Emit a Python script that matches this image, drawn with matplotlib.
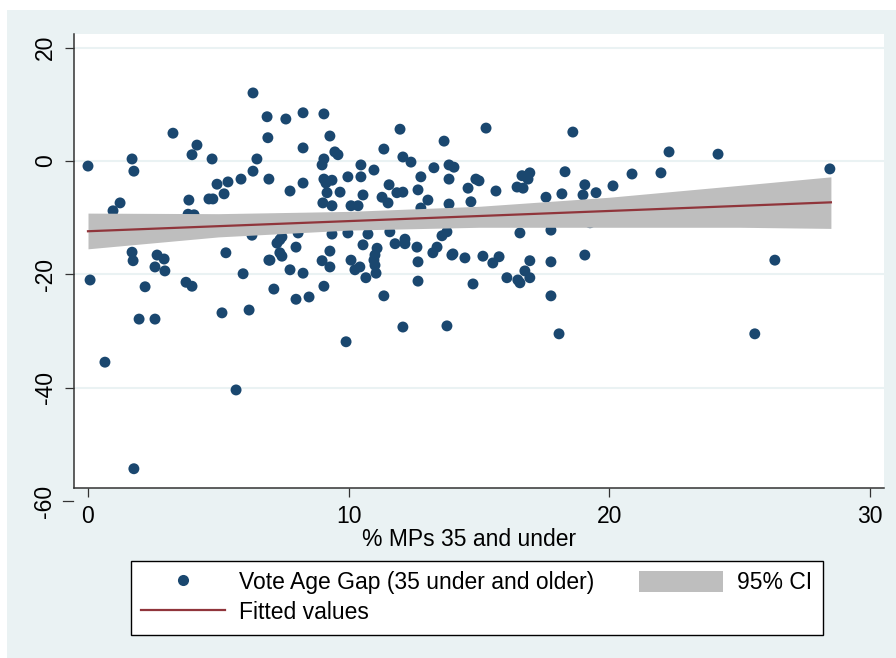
import matplotlib
matplotlib.use('Agg')
import matplotlib.pyplot as plt
from matplotlib.patches import Rectangle, Patch
from matplotlib.lines import Line2D

plt.rcParams['font.family'] = ['Liberation Sans', 'DejaVu Sans']
plt.rcParams['axes.unicode_minus'] = False

# scatter: % MPs 35 and under vs vote age gap
mps_under35 = [
    0.00, 0.08, 0.65, 0.96, 1.23, 1.69, 1.76, 3.26, 3.99, 4.18, 4.76, 3.87, 4.07, 3.84,
    4.64, 4.79, 4.95, 5.22, 5.37, 5.87, 6.33, 6.33, 6.48, 6.87, 6.90, 6.94, 6.29,
    1.69, 1.73, 2.65, 2.92, 2.57, 2.95, 2.19, 3.76, 3.99, 5.29, 5.95, 6.94, 1.96, 2.57,
    5.14, 6.18, 5.68, 1.76,
    7.59, 8.25, 9.05, 9.28, 8.25, 9.47, 9.59, 9.05, 8.98, 8.25, 7.75, 9.05, 9.36, 9.97,
    10.47, 10.47, 10.97, 11.35, 11.97, 12.08, 12.39, 13.27, 13.66, 13.85, 14.04, 13.85,
    12.77, 12.66, 13.04, 13.85, 11.55, 12.08, 11.85, 11.28, 11.51, 10.55, 9.13, 9.17,
    9.67, 9.01, 9.36, 10.09, 10.36, 12.77, 9.36, 9.97, 10.74, 11.58, 12.16, 13.58, 13.77,
    7.44, 8.06,
    7.36, 7.25, 7.98, 7.36, 7.44, 6.98, 9.28, 8.98, 9.28, 10.55, 11.09, 11.01, 10.97,
    11.01, 11.05, 10.09, 10.43, 10.24, 10.66, 11.78, 12.16, 12.62, 13.39, 13.23, 13.96,
    12.66, 12.66, 7.75, 8.25, 7.13, 9.05, 7.98, 8.48, 11.35, 12.08, 13.77, 9.90,
    15.27, 18.60, 14.58, 14.88, 15.00, 15.65, 14.69, 16.46, 16.65, 16.95, 16.69, 16.88,
    17.57, 18.18, 18.30, 19.06, 18.99, 19.49, 20.14, 20.87, 19.26, 16.57, 17.76, 14.00,
    14.46, 15.15, 15.77,
    15.53, 16.95, 17.76, 19.06, 14.77, 16.07, 16.49, 16.57, 16.76, 16.95, 17.76, 18.07,
    22.29, 24.17, 21.98, 28.46, 26.35, 25.58,
]
vote_age_gap = [
    -0.9, -21.0, -35.5, -8.8, -7.4, 0.35, -1.8, 4.9, 1.1, 2.8, 0.35, -6.9, -9.5, -9.4,
    -6.7, -6.7, -4.1, -5.8, -3.7, -3.2, 12.0, -1.8, 0.35, 7.8, 4.1, -3.2, -13.1,
    -16.1, -17.6, -16.6, -17.3, -18.7, -19.4, -22.2, -21.4, -22.1, -16.2, -19.9, -17.5,
    -27.9, -27.9, -26.8, -26.3, -40.4, -54.3,
    7.4, 8.5, 8.3, 4.4, 2.3, 1.6, 1.1, 0.35, -0.7, -3.9, -5.3, -3.2, -3.4, -2.8,
    -0.7, -2.8, -1.6, 2.1, 5.6, 0.7, -0.2, -1.2, 3.5, -0.7, -1.1, -3.2,
    -2.8, -5.1, -6.9, -7.6, -4.2, -5.5, -5.6, -6.4, -7.4, -6.0, -3.9, -5.6,
    -5.5, -7.4, -7.9, -7.9, -7.9, -8.3, -12.9, -12.7, -12.9, -12.5, -13.8, -13.2, -12.5,
    -13.4, -12.7,
    -13.9, -14.5, -15.2, -16.2, -16.8, -17.5, -15.9, -17.6, -18.7, -14.8, -15.4, -16.6, -17.5,
    -18.4, -19.8, -17.5, -18.7, -19.2, -20.6, -14.6, -14.6, -15.2, -15.2, -16.2, -16.6,
    -17.8, -21.2, -19.2, -19.8, -22.6, -22.1, -24.4, -24.0, -23.8, -29.3, -29.1, -31.9,
    5.8, 5.1, -4.8, -3.2, -3.5, -5.3, -7.2, -4.6, -2.6, -2.1, -4.8, -3.2,
    -6.4, -5.8, -1.9, -4.2, -6.0, -5.6, -4.4, -2.3, -10.9, -12.7, -12.2, -16.4,
    -17.1, -16.8, -16.9,
    -18.0, -17.6, -17.8, -16.6, -21.7, -20.6, -21.0, -21.5, -19.4, -20.6, -23.8, -30.5,
    1.6, 1.2, -2.1, -1.4, -17.5, -30.5,
]

# fitted values and 95% CI band
fit_x = [0, 28.5]
fit_y = [-12.4, -7.3]
ci_x = [0, 5, 10, 15, 20, 25, 28.5]
ci_lo = [-15.5, -13.4, -12.2, -11.7, -11.7, -11.7, -11.9]
ci_hi = [-9.2, -9.3, -8.9, -8.0, -6.4, -4.3, -2.8]

x_ticks = [0, 10, 20, 30]
y_ticks = [-40, -20, 0, 20]

BG = '#EAF2F3'
NAVY = '#1A476F'
MAROON = '#90353B'
CI_GREY = '#BEBEBE'
FS = 16.5
W, H = 896, 658

fig = plt.figure(figsize=(W / 100, H / 100), dpi=100, facecolor='white')
fig.patches.append(Rectangle((7 / W, 0), 1, (H - 10) / H, transform=fig.transFigure,
                             facecolor=BG, edgecolor='none', zorder=-10))

ax = fig.add_axes([74 / W, (H - 488) / H, 810 / W, 454 / H])
ax.set_xlim(-0.537, 30.537)
ax.set_ylim(-57.7, 22.4)

ax.scatter(mps_under35, vote_age_gap, s=62, color=NAVY, edgecolors='none', zorder=2)
ax.fill_between(ci_x, ci_lo, ci_hi, color=CI_GREY, linewidth=0, zorder=3)
ax.plot(fit_x, fit_y, color=MAROON, lw=1.6, zorder=4)

for side in ('top', 'right'):
    ax.spines[side].set_visible(False)
for side in ('left', 'bottom'):
    ax.spines[side].set_color('#333333')
    ax.spines[side].set_linewidth(1.1)

ax.set_xticks(x_ticks)
ax.set_yticks(y_ticks)
ax.tick_params(length=6.5, width=0.9, color='#333333', labelsize=FS, pad=6)
ax.tick_params(axis='y', labelrotation=90)
plt.setp(ax.get_yticklabels(), va='center')
ax.yaxis.grid(True, color=BG, lw=1.5)
ax.set_axisbelow(True)

# the -60 tick sits below the plot region in the original
ytr = ax.get_yaxis_transform()
ax.plot([-11 / 810, -1 / 810], [-60, -60], transform=ytr, clip_on=False,
        color='#333333', lw=0.9)
ax.text(-18 / 810, -60, '-60', rotation=90, ha='right', va='center',
        transform=ytr, fontsize=FS, clip_on=False)

ax.set_xlabel('% MPs 35 and under', fontsize=FS, va='top')
ax.xaxis.set_label_coords((469 - 74) / 810, -(528 - 488) / 454)

handles = [
    Line2D([], [], ls='none', marker='o', ms=8, color=NAVY, mec='none'),
    Line2D([], [], color=MAROON, lw=1.6),
    Patch(facecolor=CI_GREY, edgecolor='none'),
]
labels = ['Vote Age Gap (35 under and older)', 'Fitted values', '95% CI']
leg = fig.legend(handles, labels, ncol=2, loc='upper left',
                 bbox_to_anchor=(131 / W, 1 - 561 / H), borderaxespad=0,
                 fontsize=FS, frameon=True, fancybox=False, edgecolor='black',
                 framealpha=1, handlelength=3.67, handletextpad=0.61,
                 columnspacing=1.95, borderpad=0.45, labelspacing=0.3,
                 handleheight=1.0)
leg.get_frame().set_linewidth(1.0)

fig.savefig('out.png', dpi=100, facecolor=fig.get_facecolor())
